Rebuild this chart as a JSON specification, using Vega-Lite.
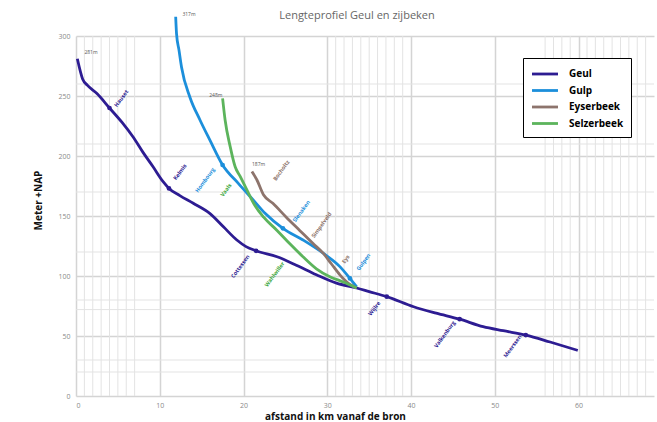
{
  "$schema": "https://vega.github.io/schema/vega-lite/v6.json",
  "autosize": {"type": "none"},
  "padding": {"left": 76, "top": 36, "right": 3, "bottom": 26},
  "width": 578,
  "height": 360,
  "background": "white",
  "title": {"text": "Lengteprofiel Geul en zijbeken", "fontSize": 11, "fontWeight": "normal", "color": "#666666", "font": "Open Sans", "anchor": "middle", "frame": "group", "dx": -8, "offset": -10},
  "config": {"view": {"stroke": null}},
  "datasets": {
    "rivers": [
      {"river": "Geul", "km": 0.16, "m": 281}, {"river": "Geul", "km": 0.8, "m": 264}, {"river": "Geul", "km": 1.35, "m": 259},
      {"river": "Geul", "km": 2.5, "m": 252}, {"river": "Geul", "km": 4.0, "m": 240}, {"river": "Geul", "km": 5.5, "m": 228},
      {"river": "Geul", "km": 6.8, "m": 216}, {"river": "Geul", "km": 8.0, "m": 203}, {"river": "Geul", "km": 9.2, "m": 191},
      {"river": "Geul", "km": 10.4, "m": 178.6}, {"river": "Geul", "km": 11.1, "m": 173}, {"river": "Geul", "km": 12.4, "m": 167},
      {"river": "Geul", "km": 14.0, "m": 160.6}, {"river": "Geul", "km": 16.0, "m": 152}, {"river": "Geul", "km": 17.6, "m": 141},
      {"river": "Geul", "km": 19.2, "m": 130}, {"river": "Geul", "km": 20.3, "m": 124.5}, {"river": "Geul", "km": 21.5, "m": 121},
      {"river": "Geul", "km": 24.0, "m": 116}, {"river": "Geul", "km": 26.3, "m": 109}, {"river": "Geul", "km": 28.7, "m": 101},
      {"river": "Geul", "km": 31.1, "m": 94}, {"river": "Geul", "km": 33.5, "m": 90}, {"river": "Geul", "km": 35.0, "m": 87},
      {"river": "Geul", "km": 37.1, "m": 82.8}, {"river": "Geul", "km": 40.3, "m": 74.4}, {"river": "Geul", "km": 43.0, "m": 69},
      {"river": "Geul", "km": 45.8, "m": 64}, {"river": "Geul", "km": 48.6, "m": 57.8}, {"river": "Geul", "km": 51.0, "m": 54.4},
      {"river": "Geul", "km": 53.7, "m": 50.8}, {"river": "Geul", "km": 56.6, "m": 45}, {"river": "Geul", "km": 59.9, "m": 38},
      {"river": "Gulp", "km": 11.9, "m": 316}, {"river": "Gulp", "km": 12.0, "m": 302}, {"river": "Gulp", "km": 12.3, "m": 288},
      {"river": "Gulp", "km": 12.6, "m": 274}, {"river": "Gulp", "km": 13.6, "m": 249}, {"river": "Gulp", "km": 14.8, "m": 230},
      {"river": "Gulp", "km": 16.0, "m": 213}, {"river": "Gulp", "km": 17.5, "m": 192.5}, {"river": "Gulp", "km": 19.4, "m": 177},
      {"river": "Gulp", "km": 21.2, "m": 163}, {"river": "Gulp", "km": 22.6, "m": 152}, {"river": "Gulp", "km": 24.7, "m": 139.7},
      {"river": "Gulp", "km": 27.1, "m": 130}, {"river": "Gulp", "km": 29.5, "m": 119}, {"river": "Gulp", "km": 31.5, "m": 107.8},
      {"river": "Gulp", "km": 32.7, "m": 98}, {"river": "Gulp", "km": 33.5, "m": 91},
      {"river": "Eyserbeek", "km": 21.0, "m": 187}, {"river": "Eyserbeek", "km": 21.6, "m": 180}, {"river": "Eyserbeek", "km": 22.4, "m": 167.5},
      {"river": "Eyserbeek", "km": 23.5, "m": 160.6}, {"river": "Eyserbeek", "km": 25.1, "m": 149}, {"river": "Eyserbeek", "km": 26.7, "m": 138},
      {"river": "Eyserbeek", "km": 28.3, "m": 127}, {"river": "Eyserbeek", "km": 29.5, "m": 119}, {"river": "Eyserbeek", "km": 30.5, "m": 110},
      {"river": "Eyserbeek", "km": 31.5, "m": 101}, {"river": "Eyserbeek", "km": 32.7, "m": 93}, {"river": "Eyserbeek", "km": 33.5, "m": 90},
      {"river": "Selzerbeek", "km": 17.5, "m": 248}, {"river": "Selzerbeek", "km": 17.8, "m": 230}, {"river": "Selzerbeek", "km": 18.4, "m": 208},
      {"river": "Selzerbeek", "km": 19.0, "m": 191}, {"river": "Selzerbeek", "km": 19.6, "m": 183}, {"river": "Selzerbeek", "km": 20.4, "m": 171.7},
      {"river": "Selzerbeek", "km": 21.2, "m": 160.6}, {"river": "Selzerbeek", "km": 22.4, "m": 149}, {"river": "Selzerbeek", "km": 24.0, "m": 138},
      {"river": "Selzerbeek", "km": 25.5, "m": 127}, {"river": "Selzerbeek", "km": 27.1, "m": 116}, {"river": "Selzerbeek", "km": 28.7, "m": 106},
      {"river": "Selzerbeek", "km": 30.3, "m": 99.4}, {"river": "Selzerbeek", "km": 31.9, "m": 95}, {"river": "Selzerbeek", "km": 33.5, "m": 90}
    ],
    "dots": [
      {"river": "Geul", "km": 4.0, "m": 240}, {"river": "Geul", "km": 11.1, "m": 173}, {"river": "Geul", "km": 21.5, "m": 121},
      {"river": "Geul", "km": 37.1, "m": 82.8}, {"river": "Geul", "km": 45.8, "m": 64}, {"river": "Geul", "km": 53.7, "m": 50.8},
      {"river": "Gulp", "km": 17.5, "m": 192.5}, {"river": "Gulp", "km": 24.7, "m": 139.7}, {"river": "Gulp", "km": 32.7, "m": 98}
    ],
    "places": [
      {"river": "Geul", "km": 5.4, "m": 248, "label": "Hauset"},
      {"river": "Geul", "km": 12.4, "m": 186.7, "label": "Kelmis"},
      {"river": "Geul", "km": 19.6, "m": 108, "label": "Cottessen"},
      {"river": "Geul", "km": 35.6, "m": 73, "label": "Wijlre"},
      {"river": "Geul", "km": 44.0, "m": 51.5, "label": "Valkenburg"},
      {"river": "Geul", "km": 52.1, "m": 41.5, "label": "Meerssen"},
      {"river": "Gulp", "km": 15.4, "m": 180, "label": "Hombourg"},
      {"river": "Gulp", "km": 26.9, "m": 154, "label": "Slenaken"},
      {"river": "Gulp", "km": 34.3, "m": 111.7, "label": "Gulpen"},
      {"river": "Selzerbeek", "km": 17.9, "m": 171.7, "label": "Vaals"},
      {"river": "Selzerbeek", "km": 23.7, "m": 101.5, "label": "Wahlwiller"},
      {"river": "Eyserbeek", "km": 24.5, "m": 188, "label": "Bocholtz"},
      {"river": "Eyserbeek", "km": 29.3, "m": 142.5, "label": "Simpelveld"},
      {"river": "Eyserbeek", "km": 32.2, "m": 114, "label": "Eys"}
    ],
    "sources": [
      {"km": 1.0, "m": 287, "label": "281m"},
      {"km": 12.7, "m": 318, "label": "317m"},
      {"km": 15.9, "m": 251, "label": "248m"},
      {"km": 21.0, "m": 193, "label": "187m"}
    ],
    "minorX": [
      {"km": 1}, {"km": 2}, {"km": 3}, {"km": 4}, {"km": 5}, {"km": 6}, {"km": 7},
      {"km": 31}, {"km": 32}, {"km": 33}, {"km": 34}, {"km": 35}, {"km": 36}, {"km": 37}, {"km": 38}, {"km": 39},
      {"km": 56}, {"km": 57}, {"km": 58}, {"km": 59},
      {"km": 61}, {"km": 62}, {"km": 63}, {"km": 64}, {"km": 65}, {"km": 66}, {"km": 67}, {"km": 68}
    ],
    "minorY": [
      {"m": 20}, {"m": 30}, {"m": 72}, {"m": 80}, {"m": 120}, {"m": 170}, {"m": 210}, {"m": 260}
    ]
  },
  "layer": [
    {
      "data": {"name": "minorX"},
      "mark": {"type": "rule", "color": "#e3e3e3", "strokeWidth": 1},
      "encoding": {"x": {"field": "km", "type": "quantitative", "scale": {"domain": [0, 69], "nice": false}}}
    },
    {
      "data": {"name": "minorY"},
      "mark": {"type": "rule", "color": "#e3e3e3", "strokeWidth": 1},
      "encoding": {"y": {"field": "m", "type": "quantitative", "scale": {"domain": [0, 300], "nice": false}}}
    },
    {
      "data": {"name": "rivers"},
      "mark": {"type": "line", "interpolate": "monotone"},
      "encoding": {
        "x": {"field": "km", "type": "quantitative", "scale": {"domain": [0, 69], "nice": false},
          "axis": {"values": [0, 10, 20, 30, 40, 50, 60], "grid": true, "gridColor": "#d4d4d4", "gridWidth": 1.5, "domain": false, "ticks": false,
            "labelFontSize": 7, "labelColor": "#8a8a8a", "labelPadding": 5, "labelFont": "Open Sans",
            "title": "afstand in km vanaf de bron", "titleFont": "Open Sans", "titleFontSize": 10, "titleFontWeight": "bold", "titleColor": "#111111",
            "titleX": 259, "titleY": 23, "titleBaseline": "alphabetic", "titleAlign": "center"}},
        "y": {"field": "m", "type": "quantitative", "scale": {"domain": [0, 300], "nice": false},
          "axis": {"values": [0, 50, 100, 150, 200, 250, 300], "grid": true, "gridColor": "#d4d4d4", "gridWidth": 1.5, "domain": false, "ticks": false,
            "labelFontSize": 7, "labelColor": "#8a8a8a", "labelPadding": 6, "labelFont": "Open Sans",
            "title": "Meter +NAP", "titleFont": "Open Sans", "titleFontSize": 10, "titleFontWeight": "bold", "titleColor": "#111111",
            "titleX": -38, "titleY": 164, "titleAngle": 270, "titleBaseline": "middle", "titleAlign": "center"}},
        "color": {"field": "river", "type": "nominal",
          "scale": {"domain": ["Geul", "Gulp", "Eyserbeek", "Selzerbeek"], "range": ["#2d1c92", "#1c8fdb", "#8d746c", "#5cb45c"]},
          "legend": {"title": null, "orient": "none", "legendX": 447, "legendY": 22, "strokeColor": "#000000", "fillColor": "#ffffff",
            "padding": 7, "symbolType": "M-1.73,0H1.73", "symbolSize": 225, "symbolStrokeWidth": 3, "symbolOffset": 6,
            "labelFont": "Open Sans", "labelFontSize": 10, "labelFontWeight": "bold", "labelColor": "#000000", "labelOffset": 15, "rowPadding": 1.5}},
        "strokeWidth": {"field": "river", "type": "nominal",
          "scale": {"domain": ["Geul", "Gulp", "Eyserbeek", "Selzerbeek"], "range": [2.8, 2.8, 1.3, 1.3]}, "legend": null}
      }
    },
    {
      "data": {"name": "dots"},
      "mark": {"type": "point", "filled": true, "size": 22, "opacity": 1},
      "encoding": {
        "x": {"field": "km", "type": "quantitative"},
        "y": {"field": "m", "type": "quantitative"},
        "fill": {"field": "river", "type": "nominal",
          "scale": {"domain": ["Geul", "Gulp", "Eyserbeek", "Selzerbeek"], "range": ["#2d1c92", "#1c8fdb", "#8d746c", "#3fa83f"]}, "legend": null}
      }
    },
    {
      "data": {"name": "places"},
      "mark": {"type": "text", "angle": 306, "fontSize": 5.5, "fontWeight": "bold", "font": "Open Sans"},
      "encoding": {
        "x": {"field": "km", "type": "quantitative"},
        "y": {"field": "m", "type": "quantitative"},
        "text": {"field": "label"},
        "fill": {"field": "river", "type": "nominal", "legend": null}
      }
    },
    {
      "data": {"name": "sources"},
      "mark": {"type": "text", "fontSize": 5, "font": "Open Sans", "color": "#555555", "align": "left"},
      "encoding": {
        "x": {"field": "km", "type": "quantitative"},
        "y": {"field": "m", "type": "quantitative"},
        "text": {"field": "label"}
      }
    }
  ]
}
